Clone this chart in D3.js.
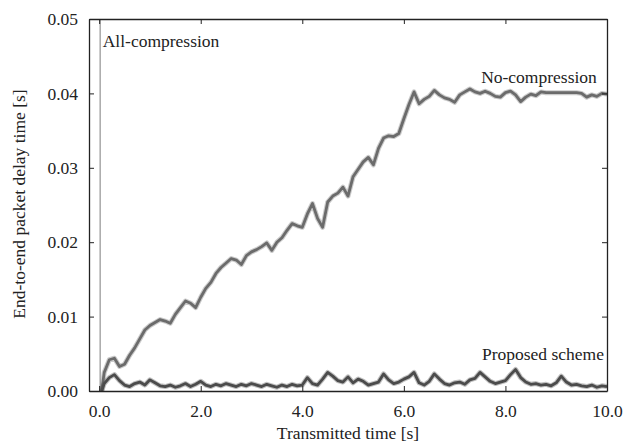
<!DOCTYPE html>
<html>
<head>
<meta charset="utf-8">
<script src="https://cdn.jsdelivr.net/npm/d3@7"></script>
<style>
  body { margin: 0; background: #fff; }
</style>
</head>
<body>
<svg></svg>
<script>
// sample times (s) shared by the two noisy traces
const TIMES = [0.05, 0.1, 0.2, 0.3, 0.4, 0.5, 0.6, 0.7, 0.8, 0.9,
  1.0, 1.1, 1.2, 1.3, 1.4, 1.5, 1.6, 1.7, 1.8, 1.9,
  2.0, 2.1, 2.2, 2.3, 2.4, 2.5, 2.6, 2.7, 2.8, 2.9,
  3.0, 3.1, 3.2, 3.3, 3.4, 3.5, 3.6, 3.7, 3.8, 3.9,
  4.0, 4.1, 4.2, 4.3, 4.4, 4.5, 4.6, 4.7, 4.8, 4.9,
  5.0, 5.1, 5.2, 5.3, 5.4, 5.5, 5.6, 5.7, 5.8, 5.9,
  6.0, 6.1, 6.2, 6.3, 6.4, 6.5, 6.6, 6.7, 6.8, 6.9,
  7.0, 7.1, 7.2, 7.3, 7.4, 7.5, 7.6, 7.7, 7.8, 7.9,
  8.0, 8.1, 8.2, 8.3, 8.4, 8.5, 8.6, 8.7, 8.8, 8.9,
  9.0, 9.1, 9.2, 9.3, 9.4, 9.5, 9.6, 9.7, 9.8, 9.9, 10.0];

const NO_COMPRESSION = [0.0000, 0.0025, 0.0042, 0.0044, 0.0033, 0.0036, 0.0048, 0.0058, 0.0070, 0.0082,
  0.0088, 0.0092, 0.0096, 0.0094, 0.0091, 0.0103, 0.0112, 0.0121, 0.0118, 0.0112,
  0.0126, 0.0138, 0.0146, 0.0158, 0.0166, 0.0172, 0.0178, 0.0176, 0.0170, 0.0182,
  0.0187, 0.0190, 0.0194, 0.0199, 0.0189, 0.0200, 0.0206, 0.0216, 0.0225, 0.0222,
  0.0220, 0.0238, 0.0252, 0.0232, 0.0220, 0.0254, 0.0262, 0.0266, 0.0274, 0.0262,
  0.0288, 0.0298, 0.0308, 0.0314, 0.0304, 0.0326, 0.0340, 0.0343, 0.0342, 0.0346,
  0.0366, 0.0385, 0.0402, 0.0386, 0.0392, 0.0396, 0.0404, 0.0398, 0.0394, 0.0392,
  0.0388, 0.0398, 0.0402, 0.0406, 0.0402, 0.0400, 0.0403, 0.0400, 0.0396, 0.0395,
  0.0401, 0.0403, 0.0398, 0.0389, 0.0395, 0.0399, 0.0397, 0.0402, 0.0401, 0.0401,
  0.0401, 0.0401, 0.0401, 0.0401, 0.0401, 0.0400, 0.0395, 0.0398, 0.0396, 0.0400, 0.0399];

const PROPOSED = [0.0000, 0.0010, 0.0018, 0.0022, 0.0014, 0.0008, 0.0006, 0.0010, 0.0012, 0.0008,
  0.0015, 0.0011, 0.0007, 0.0006, 0.0008, 0.0005, 0.0007, 0.0010, 0.0006, 0.0009,
  0.0013, 0.0008, 0.0006, 0.0009, 0.0007, 0.0010, 0.0008, 0.0006, 0.0009, 0.0007,
  0.0010, 0.0008, 0.0006, 0.0009, 0.0007, 0.0005, 0.0008, 0.0006, 0.0009, 0.0007,
  0.0008, 0.0018, 0.0010, 0.0008, 0.0016, 0.0025, 0.0020, 0.0014, 0.0012, 0.0019,
  0.0011, 0.0016, 0.0013, 0.0008, 0.0010, 0.0012, 0.0023, 0.0015, 0.0010, 0.0012,
  0.0016, 0.0019, 0.0025, 0.0011, 0.0008, 0.0013, 0.0023, 0.0016, 0.0010, 0.0008,
  0.0011, 0.0012, 0.0009, 0.0015, 0.0017, 0.0025, 0.0019, 0.0013, 0.0010, 0.0012,
  0.0014, 0.0022, 0.0029, 0.0018, 0.0012, 0.0009, 0.0010, 0.0008, 0.0009, 0.0007,
  0.0011, 0.0020, 0.0012, 0.0008, 0.0009, 0.0007, 0.0006, 0.0008, 0.0005, 0.0007, 0.0006];

// all-compression shows as a near-vertical line right at the start
const ALL_TIMES = [0.02, 0.02];
const ALL_COMPRESSION = [0.0, 0.05];

const X_TICKS = [0, 2, 4, 6, 8, 10];
const Y_TICKS = [0, 0.01, 0.02, 0.03, 0.04, 0.05];

const FONT = "'Liberation Serif', 'Times New Roman', Times, 'DejaVu Serif', serif";
const FONT_SIZE = '17.5px';

const WIDTH = 626, HEIGHT = 443;
const MARGIN = { top: 19, right: 19, bottom: 52, left: 89 };
const PLOT_W = WIDTH - MARGIN.left - MARGIN.right;
const PLOT_H = HEIGHT - MARGIN.top - MARGIN.bottom;

const x = d3.scaleLinear().domain([-0.2, 10]).range([0, PLOT_W]);
const y = d3.scaleLinear().domain([0, 0.05]).range([PLOT_H, 0]);

const svg = d3.select('svg')
  .attr('width', WIDTH)
  .attr('height', HEIGHT);
const chart = svg.append('g')
  .attr('transform', `translate(${MARGIN.left},${MARGIN.top})`);

const line = d3.line()
  .x(d => x(d[0]))
  .y(d => y(d[1]));

// traces
chart.append('path')
  .datum(d3.zip(ALL_TIMES, ALL_COMPRESSION))
  .attr('d', line)
  .attr('fill', 'none')
  .attr('stroke', '#a8a8a8')
  .attr('stroke-width', 1.5);

// noisy traces: soft lighter halo under a solid core
function trace(values, color) {
  const pts = d3.zip(TIMES, values);
  chart.append('path')
    .datum(pts)
    .attr('d', line)
    .attr('fill', 'none')
    .attr('stroke', color)
    .attr('stroke-opacity', 0.35)
    .attr('stroke-width', 5)
    .attr('stroke-linejoin', 'round');
  chart.append('path')
    .datum(pts)
    .attr('d', line)
    .attr('fill', 'none')
    .attr('stroke', color)
    .attr('stroke-width', 2.8)
    .attr('stroke-linejoin', 'round');
}
trace(NO_COMPRESSION, '#6b6b6b');
trace(PROPOSED, '#4b4b4b');

// frame + inward ticks on all four sides
const fmtX = d3.format('.1f');
const fmtY = d3.format('.2f');
chart.append('g')
  .attr('transform', `translate(0,${PLOT_H})`)
  .call(d3.axisBottom(x).tickValues(X_TICKS).tickFormat(fmtX).tickSizeInner(-5).tickSizeOuter(0).tickPadding(14));
chart.append('g')
  .call(d3.axisTop(x).tickValues(X_TICKS).tickFormat('').tickSizeInner(-5).tickSizeOuter(0));
chart.append('g')
  .call(d3.axisLeft(y).tickValues(Y_TICKS).tickFormat(fmtY).tickSizeInner(-5).tickSizeOuter(0).tickPadding(11));
chart.append('g')
  .attr('transform', `translate(${PLOT_W},0)`)
  .call(d3.axisRight(y).tickValues(Y_TICKS).tickFormat('').tickSizeInner(-5).tickSizeOuter(0));

chart.selectAll('.domain').attr('stroke', '#222').attr('stroke-width', 1.3);
chart.selectAll('.tick line').attr('stroke', '#222');
chart.selectAll('.tick text')
  .attr('font-family', FONT)
  .attr('font-size', FONT_SIZE)
  .attr('fill', '#222');

function addText(parent) {
  return parent.append('text')
    .attr('font-family', FONT)
    .attr('font-size', FONT_SIZE)
    .attr('fill', '#222');
}

// series labels
addText(chart)
  .attr('x', x(0.07))
  .attr('y', 28)
  .text('All-compression');
addText(chart)
  .attr('x', x(9.8))
  .attr('y', 64)
  .attr('text-anchor', 'end')
  .text('No-compression');
addText(chart)
  .attr('x', x(9.94))
  .attr('y', 341)
  .attr('text-anchor', 'end')
  .text('Proposed scheme');

// axis titles
addText(svg)
  .attr('x', MARGIN.left + PLOT_W / 2)
  .attr('y', 439)
  .attr('text-anchor', 'middle')
  .text('Transmitted time [s]');
addText(svg)
  .attr('transform', `translate(25,${MARGIN.top + PLOT_H / 2 - 1}) rotate(-90)`)
  .attr('text-anchor', 'middle')
  .text('End-to-end packet delay time [s]');
</script>
</body>
</html>
